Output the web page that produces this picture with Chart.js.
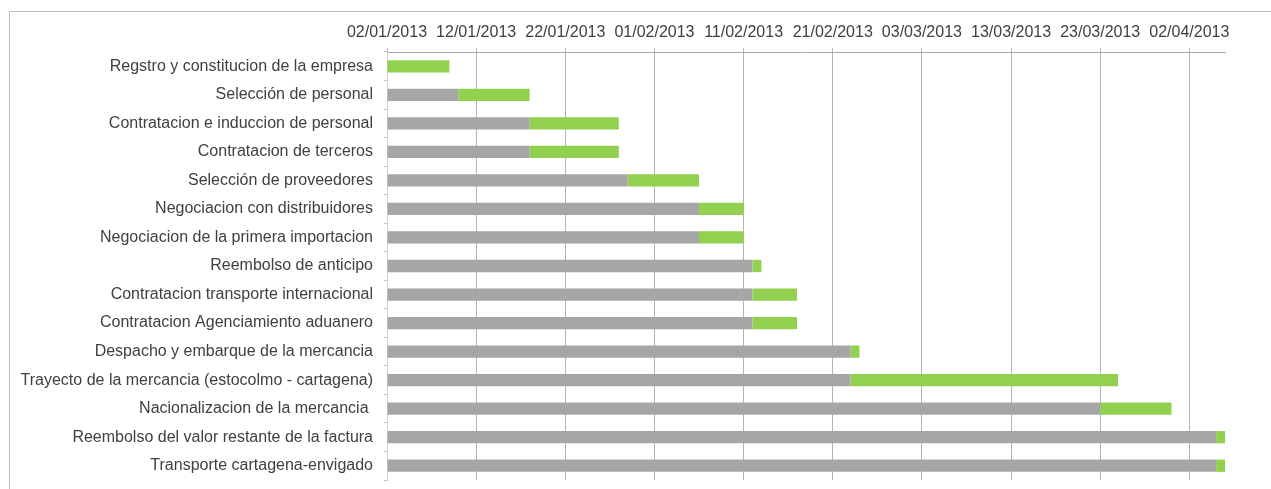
<!DOCTYPE html>
<html>
<head>
<meta charset="utf-8">
<script src="https://cdn.jsdelivr.net/npm/chart.js@4"></script>
<style>
    html, body { margin: 0; padding: 0; background: #fff; }
    #wrap { position: relative; width: 1271px; height: 489px; }
    #frame {
        position: absolute; left: 9px; top: 11px; right: 0; bottom: 0;
        border-left: 1px solid #bdbdbd; border-top: 1px solid #bdbdbd;
        pointer-events: none;
    }
</style>
</head>
<body>
<div id="wrap">
    <canvas id="myChart" width="1271" height="489"></canvas>
    <div id="frame"></div>
</div>
<script>
// tasks, top to bottom
const tasks = [
    "Regstro y constitucion de la empresa",
    "Selección de personal",
    "Contratacion e induccion de personal",
    "Contratacion de terceros",
    "Selección de proveedores",
    "Negociacion con distribuidores",
    "Negociacion de la primera importacion",
    "Reembolso de anticipo",
    "Contratacion transporte internacional",
    "Contratacion Agenciamiento aduanero",
    "Despacho y embarque de la mercancia",
    "Trayecto de la mercancia (estocolmo - cartagena)",
    "Nacionalizacion de la mercancia ",
    "Reembolso del valor restante de la factura",
    "Transporte cartagena-envigado"
];

// days counted from 02/01/2013
const startDay = [0, 8, 16, 16, 27, 35, 35, 41, 41, 41, 52, 52, 80, 93, 93];
const duration = [7, 8, 10, 10, 8, 5, 5, 1, 5, 5, 1, 30, 8, 1, 1];

const tickDays = [0, 10, 20, 30, 40, 50, 60, 70, 80, 90];
const tickLabels = ["02/01/2013", "12/01/2013", "22/01/2013", "01/02/2013", "11/02/2013",
    "21/02/2013", "03/03/2013", "13/03/2013", "23/03/2013", "02/04/2013"];
const lastDay = 94;

const ctx = document.getElementById("myChart").getContext("2d");
const font = { family: "'Liberation Sans', Arial, sans-serif", size: 16 };

new Chart(ctx, {
    type: "bar",
    data: {
        labels: tasks,
        datasets: [
            { label: "Inicio", data: startDay, backgroundColor: "#a6a6a6" },
            { label: "Duracion", data: duration, backgroundColor: "#92d050" }
        ]
    },
    options: {
        indexAxis: "y",
        responsive: false,
        animation: false,
        layout: { padding: { left: 0, right: 46, top: 0, bottom: 9 } },
        datasets: { bar: { categoryPercentage: 1, barPercentage: 0.43 } },
        plugins: {
            legend: { display: false },
            tooltip: { enabled: false }
        },
        scales: {
            x: {
                position: "top",
                stacked: true,
                min: 0,
                max: lastDay,
                afterBuildTicks: (scale) => {
                    scale.ticks = tickDays.map(v => ({ value: v }));
                },
                afterFit: (scale) => { scale.height = 52; },
                grid: { color: "#b4b4b4", lineWidth: 1, tickLength: 4 },
                border: { color: "#a8a8a8" },
                ticks: {
                    color: "#404040",
                    font: font,
                    padding: 6,
                    maxRotation: 0,
                    autoSkip: false,
                    callback: (v) => tickLabels[tickDays.indexOf(v)]
                }
            },
            y: {
                stacked: true,
                afterFit: (scale) => {
                    scale.width = 387;
                    scale.paddingTop = 0;
                    scale.paddingBottom = 0;
                },
                grid: { drawOnChartArea: false, color: "#c4c4c4", tickLength: 3 },
                border: { color: "#d0d0d0" },
                ticks: { color: "#404040", font: font, padding: 11, autoSkip: false }
            }
        }
    }
});
</script>
</body>
</html>
